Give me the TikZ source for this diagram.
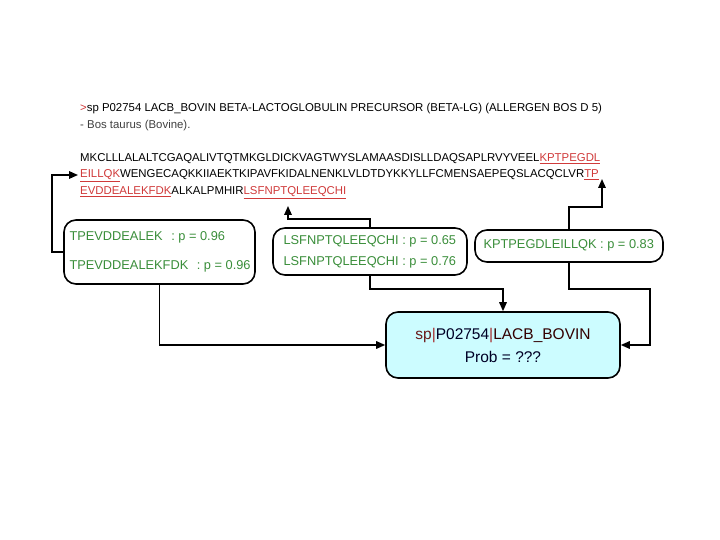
\documentclass[tikz,border=0pt]{standalone}
\usepackage{fontspec}
\setmainfont{Liberation Sans}
\usetikzlibrary{arrows.meta,calc}
\definecolor{seqred}{HTML}{D03A3A}
\definecolor{pgreen}{HTML}{3A8E3A}
\definecolor{boxcyan}{HTML}{CCFCFF}
\definecolor{darkred}{HTML}{6A1A1A}
\newcommand{\rs}[1]{\textcolor{seqred}{\underline{#1}}}
\begin{document}
\begin{tikzpicture}[x=1pt,y=-1pt,
  pbox/.style={draw=black,line width=1.6pt,rounded corners=12pt,inner sep=0pt,fill=white},
  ptxt/.style={text=pgreen,font=\fontsize{12.8}{16}\selectfont},
  hdr/.style={anchor=base west,inner sep=0pt,font=\fontsize{11.4}{12}\selectfont},
  seq/.style={anchor=base west,inner sep=0pt,font=\fontsize{11.4}{12}\selectfont},
  arr/.style={line width=1.6pt,-{Triangle[length=9pt,width=7.5pt]}}]
\useasboundingbox (0,0) rectangle (720,540);
\fill[white] (0,0) rectangle (720,540);

% header
\node[hdr] (h1) at (80,112) {\textcolor{seqred}{>}sp P02754 LACB\_BOVIN BETA-LACTOGLOBULIN PRECURSOR (BETA-LG) (ALLERGEN BOS D 5)};
\node[hdr,text=black!75] (h2) at (80,129) {- Bos taurus (Bovine).};

% sequence
\node[seq] (s1) at (80,162) {MKCLLLALALTCGAQALIVTQTMKGLDICKVAGTWYSLAMAASDISLLDAQSAPLRVYVEEL\rs{KPTPEGDL}};
\node[seq] (s2) at (80,178) {\rs{EILLQK}WENGECAQKKIIAEKTKIPAVFKIDALNENKLVLDTDYKKYLLFCMENSAEPEQSLACQCLVR\rs{TP}};
\node[seq] (s3) at (80,195) {\rs{EVDDEALEKFDK}ALKALPMHIR\rs{LSFNPTQLEEQCHI}};

% peptide boxes
\node[pbox,minimum width=191pt,minimum height=64pt] (A) at (159.5,252) {};
\node[ptxt,anchor=west] at (66,237) {TPEVDDEALEK\hspace{5pt} : p = 0.96};
\node[ptxt,anchor=west] at (66,266) {TPEVDDEALEKFDK\hspace{5pt} : p = 0.96};

\node[pbox,minimum width=194pt,minimum height=47pt] (B) at (370,251.5) {};
\node[ptxt,anchor=west] at (280,241) {LSFNPTQLEEQCHI : p = 0.65};
\node[ptxt,anchor=west] at (280,262) {LSFNPTQLEEQCHI : p = 0.76};

\node[pbox,minimum width=188pt,minimum height=32pt] (C) at (569,246) {};
\node[ptxt,anchor=west] at (480,245) {KPTPEGDLEILLQK : p = 0.83};

% protein box
\node[pbox,fill=boxcyan,minimum width=234pt,minimum height=66pt,align=center,
      font=\fontsize{15.5}{25}\selectfont] (D) at (503,345)
  {\textcolor{darkred}{sp}\textcolor{seqred!80!black}{|}\textcolor{black!85!blue}{P02754}\textcolor{seqred!80!black}{|}\textcolor{black!80!red}{LACB\_BOVIN}\\[-2pt]
   \textcolor{black!85!blue}{Prob = ???}};

% targets in the sequence
\coordinate (t1) at (78,175);
\coordinate (t2) at (288,206);
\coordinate (t3) at (602,179);
\coordinate (c6) at (650,345);

% connectors
\draw[arr] (A.west) -- ++(-11,0) |- (t1);
\draw[arr] (B.north) -- ++(0,-8) -| (t2);
\draw[arr] (C.north) -- ++(0,-22) -| (t3);
\draw[arr] (A.south) |- (D.west);
\draw[arr] (B.south) -- ++(0,13) -| (D.north);
\draw[arr] (C.south) -- ++(0,26) -| (c6) -- (D.east);
\end{tikzpicture}
\end{document}
